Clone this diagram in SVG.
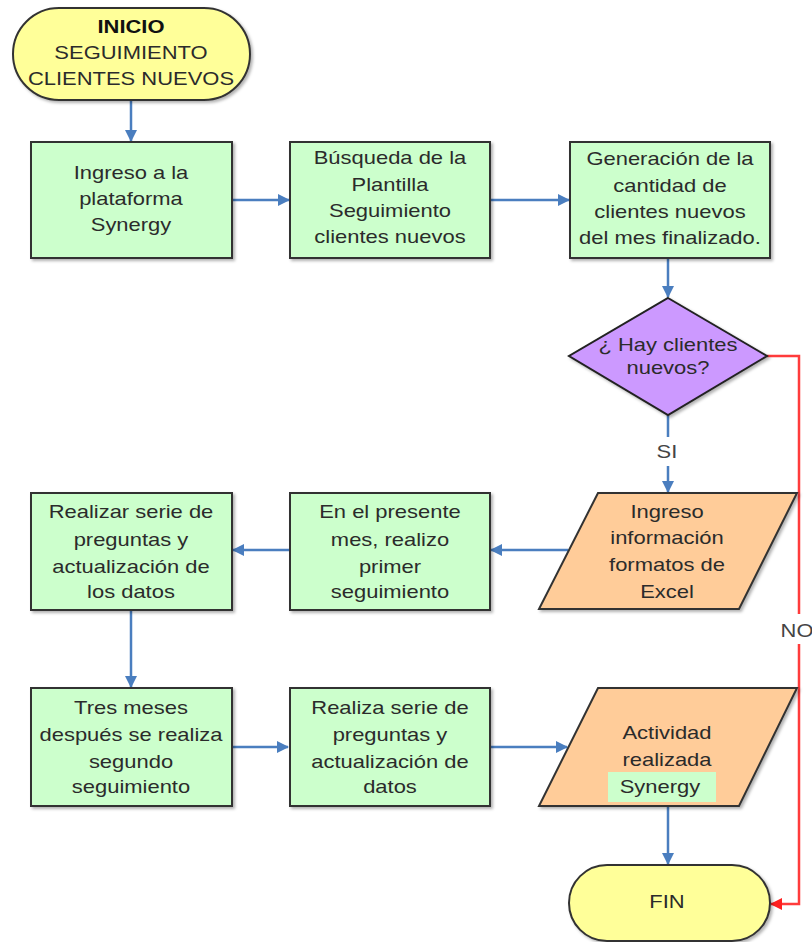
<svg xmlns="http://www.w3.org/2000/svg" width="812" height="942" viewBox="0 0 812 942">
<style>
.t{font-family:"Liberation Sans",Arial,sans-serif;font-size:18px;fill:#2b2b2b;text-anchor:middle}
.b{font-weight:bold;fill:#111}
.box{fill:#CCFFCC;stroke:#333;stroke-width:2}
.term{fill:#FFFF99;stroke:#333;stroke-width:2}
.dec{fill:#CC99FF;stroke:#222;stroke-width:2}
.io{fill:#FFCC99;stroke:#333;stroke-width:2}
.c{fill:none;stroke:#4A7EBF;stroke-width:2.5}
.r{fill:none;stroke:#FF3B3B;stroke-width:2.5}
.lbl{font-family:"Liberation Sans",Arial,sans-serif;font-size:18px;fill:#444;text-anchor:middle}
</style>
<defs>
<filter id="sh" x="-10%" y="-10%" width="130%" height="130%"><feDropShadow dx="2" dy="2" stdDeviation="1.5" flood-color="#000" flood-opacity="0.3"/></filter>
<marker id="ab" viewBox="0 0 12 12" refX="11" refY="6" markerWidth="12" markerHeight="12" markerUnits="userSpaceOnUse" orient="auto"><path d="M0,0 L12,6 L0,12 Z" fill="#4A7EBF"/></marker>
<marker id="ar" viewBox="0 0 12 12" refX="11" refY="6" markerWidth="12" markerHeight="12" markerUnits="userSpaceOnUse" orient="auto"><path d="M0,0 L12,6 L0,12 Z" fill="#FF2020"/></marker>
</defs>
<rect width="812" height="942" fill="#fff"/>
<g id="connectors">
<path class="c" d="M131,100 V141" marker-end="url(#ab)"/>
<path class="c" d="M232,200 H289" marker-end="url(#ab)"/>
<path class="c" d="M490,200 H569" marker-end="url(#ab)"/>
<path class="c" d="M668,258 V297" marker-end="url(#ab)"/>
<path class="c" d="M668,415 V437 M668,466 V492" marker-end="url(#ab)"/>
<path class="c" d="M568,550 H491" marker-end="url(#ab)"/>
<path class="c" d="M289,550 H233" marker-end="url(#ab)"/>
<path class="c" d="M131,610 V687" marker-end="url(#ab)"/>
<path class="c" d="M232,747 H288" marker-end="url(#ab)"/>
<path class="c" d="M490,747 H567" marker-end="url(#ab)"/>
<path class="c" d="M668,806 V864" marker-end="url(#ab)"/>
<path class="r" d="M767,356 H799 V614"/>
<path class="r" d="M799,644 V904 H771" marker-end="url(#ar)"/>
<text class="lbl" x="667" y="458" transform="matrix(1.22 0 0 1 -146.74 0)">SI</text>
<text class="lbl" x="797" y="637" transform="matrix(1.22 0 0 1 -175.34 0)">NO</text>
</g>
<g id="inicio">
<rect class="term" x="13" y="8" width="237" height="92" rx="46" filter="url(#sh)"/>
<g transform="matrix(1.22 0 0 1 -28.82 0)">
<text class="t b" x="131" y="33">INICIO</text>
<text class="t" x="131" y="59">SEGUIMIENTO</text>
<text class="t" x="131" y="85">CLIENTES NUEVOS</text>
</g>
</g>
<g id="ingreso">
<rect class="box" x="31" y="142" width="201" height="116" filter="url(#sh)"/>
<g transform="matrix(1.22 0 0 1 -28.82 0)">
<text class="t" x="131" y="179">Ingreso a la</text>
<text class="t" x="131" y="205">plataforma</text>
<text class="t" x="131" y="231">Synergy</text>
</g>
</g>
<g id="busqueda">
<rect class="box" x="290" y="142" width="200" height="116" filter="url(#sh)"/>
<g transform="matrix(1.22 0 0 1 -85.8 0)">
<text class="t" x="390" y="164">Búsqueda de la</text>
<text class="t" x="390" y="191">Plantilla</text>
<text class="t" x="390" y="217">Seguimiento</text>
<text class="t" x="390" y="243">clientes nuevos</text>
</g>
</g>
<g id="generacion">
<rect class="box" x="570" y="142" width="200" height="116" filter="url(#sh)"/>
<g transform="matrix(1.22 0 0 1 -147.4 0)">
<text class="t" x="670" y="165">Generación de la</text>
<text class="t" x="670" y="192">cantidad de</text>
<text class="t" x="670" y="218">clientes nuevos</text>
<text class="t" x="670" y="244">del mes finalizado.</text>
</g>
</g>
<g id="decision">
<polygon class="dec" points="668,298 767,356 668,415 569,356" filter="url(#sh)"/>
<g transform="matrix(1.22 0 0 1 -146.96 0)">
<text class="t" x="668" y="351">¿ Hay clientes</text>
<text class="t" x="668" y="374">nuevos?</text>
</g>
</g>
<g id="ingreso-excel">
<polygon class="io" points="598,493 797,493 739,609 539,609" filter="url(#sh)"/>
<g transform="matrix(1.22 0 0 1 -146.74 0)">
<text class="t" x="667" y="518">Ingreso</text>
<text class="t" x="667" y="544">información</text>
<text class="t" x="667" y="571">formatos de</text>
<text class="t" x="667" y="598">Excel</text>
</g>
</g>
<g id="primer-seguimiento">
<rect class="box" x="290" y="493" width="200" height="117" filter="url(#sh)"/>
<g transform="matrix(1.22 0 0 1 -85.8 0)">
<text class="t" x="390" y="518">En el presente</text>
<text class="t" x="390" y="546">mes, realizo</text>
<text class="t" x="390" y="573">primer</text>
<text class="t" x="390" y="598">seguimiento</text>
</g>
</g>
<g id="realizar-serie">
<rect class="box" x="31" y="493" width="201" height="117" filter="url(#sh)"/>
<g transform="matrix(1.22 0 0 1 -28.82 0)">
<text class="t" x="131" y="518">Realizar serie de</text>
<text class="t" x="131" y="546">preguntas y</text>
<text class="t" x="131" y="573">actualización de</text>
<text class="t" x="131" y="598">los datos</text>
</g>
</g>
<g id="tres-meses">
<rect class="box" x="31" y="688" width="201" height="118" filter="url(#sh)"/>
<g transform="matrix(1.22 0 0 1 -28.82 0)">
<text class="t" x="131" y="714">Tres meses</text>
<text class="t" x="131" y="741">después se realiza</text>
<text class="t" x="131" y="768">segundo</text>
<text class="t" x="131" y="793">seguimiento</text>
</g>
</g>
<g id="realiza-serie">
<rect class="box" x="290" y="688" width="200" height="118" filter="url(#sh)"/>
<g transform="matrix(1.22 0 0 1 -85.8 0)">
<text class="t" x="390" y="714">Realiza serie de</text>
<text class="t" x="390" y="741">preguntas y</text>
<text class="t" x="390" y="768">actualización de</text>
<text class="t" x="390" y="793">datos</text>
</g>
</g>
<g id="actividad">
<polygon class="io" points="598,688 797,688 739,806 539,806" filter="url(#sh)"/>
<rect x="608" y="772" width="108" height="30" fill="#CCFFCC"/>
<g transform="matrix(1.22 0 0 1 -146.74 0)">
<text class="t" x="667" y="739">Actividad</text>
<text class="t" x="667" y="766">realizada</text>
</g>
<g transform="matrix(1.22 0 0 1 -145.2 0)">
<text class="t" x="660" y="793">Synergy</text>
</g>
</g>
<g id="fin">
<rect class="term" x="569" y="865" width="201" height="76" rx="38" filter="url(#sh)"/>
<g transform="matrix(1.22 0 0 1 -146.74 0)">
<text class="t" x="667" y="908">FIN</text>
</g>
</g>
</svg>
